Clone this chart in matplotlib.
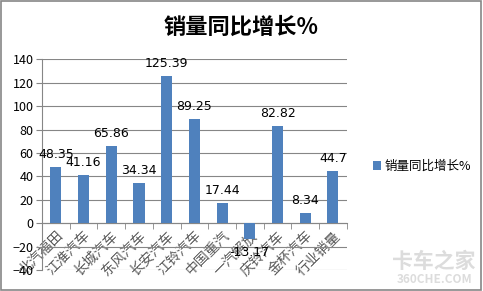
import matplotlib.pyplot as plt
import matplotlib.patches as patches
import numpy as np

plt.rcParams['font.family'] = ['Noto Sans CJK SC', 'DejaVu Sans']

# data
brands = ['北汽福田', '江淮汽车', '长城汽车', '东风汽车', '长安汽车', '江铃汽车',
          '中国重汽', '一汽解放', '庆铃汽车', '金杯汽车', '行业销量']
growth = [48.35, 41.16, 65.86, 34.34, 125.39, 89.25, 17.44, -13.17, 82.82, 8.34, 44.7]
value_labels = ['48.35', '41.16', '65.86', '34.34', '125.39', '89.25',
                '17.44', '-13.17', '82.82', '8.34', '44.7']
y_ticks = [-40, -20, 0, 20, 40, 60, 80, 100, 120, 140]

bar_color = '#4F81BD'
grid_color = '#868686'

fig = plt.figure(figsize=(4.83, 2.91), dpi=100)
ax = fig.add_axes([0.087, 0.0722, 0.631, 0.7238])

x = np.arange(len(brands))
bars = ax.bar(x, growth, width=0.4, color=bar_color, zorder=3, label='销量同比增长%')

ax.set_xlim(-0.5, len(brands) - 0.5)
ax.set_ylim(-40, 140)
ax.set_yticks(y_ticks)
ax.yaxis.grid(True, color=grid_color, linewidth=0.8, zorder=0)

for side in ['top', 'right']:
    ax.spines[side].set_visible(False)
ax.spines['left'].set_color(grid_color)
ax.spines['bottom'].set_position(('data', 0))
ax.spines['bottom'].set_color(grid_color)

ax.tick_params(axis='y', length=4, color=grid_color, labelsize=9, labelcolor='#000000', pad=2)
ax.set_xticks(x)
ax.set_xticklabels(brands, rotation=45, ha='right', rotation_mode='anchor',
                   fontsize=10, color='#595959')
ax.set_xticks(np.arange(len(brands) + 1) - 0.5, minor=True)
ax.tick_params(axis='x', which='major', length=0, pad=4)
ax.tick_params(axis='x', which='minor', length=4, color=grid_color, direction='out')

for xi, v, lab in zip(x, growth, value_labels):
    off = 9 if v >= 0 else -10
    ax.annotate(lab, (xi, v), xytext=(0, off), textcoords='offset points',
                ha='center', va='center', fontsize=9, family='DejaVu Sans', zorder=4)

fig.text(0.5, 0.905, '销量同比增长%', ha='center', va='center', fontsize=16, fontweight='bold')

fig.legend(handles=[bars], labels=['销量同比增长%'], loc='center left',
           bbox_to_anchor=(0.748, 0.427), frameon=False, fontsize=9,
           handlelength=0.7, handleheight=0.7, handletextpad=0.3)

# watermark
fig.text(0.899, 0.1, '卡车之家', ha='center', va='center', fontsize=15,
         fontweight='bold', color='#dcdcdc')
fig.text(0.899, 0.038, '360CHE.COM', ha='center', va='center', fontsize=8.5,
         fontweight='bold', color='#dcdcdc')

fig.patches.append(patches.Rectangle((0.002, 0.003), 0.994, 0.993, transform=fig.transFigure,
                                     fill=False, edgecolor='#868686', linewidth=1.2))

fig.savefig('out.png', dpi=100)
